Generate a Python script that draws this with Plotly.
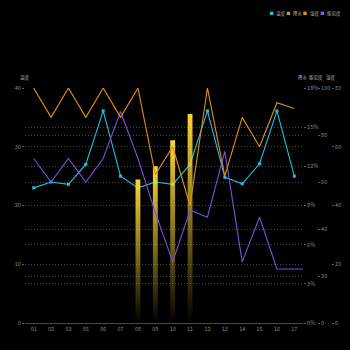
import plotly.graph_objects as go

categories = ["01", "02", "03", "05", "06", "07", "08", "09", "10", "11", "12", "13", "14", "15", "16", "17"]
temperature = [23.0, 24.0, 23.6, 27.0, 36.1, 25.0, 23.0, 24.0, 23.6, 27.0, 36.1, 24.8, 23.7, 27.1, 36.1, 25.0]
precip = [None, None, None, None, None, None, 11, 12, 14, 16, None, None, None, None, None, None]
humidity = [80, 70, 80, 70, 80, 70, 80, 50.5, 60, 40, 80, 50, 70, 60, 75, 73]
visibility = [70, 60, 70, 60, 70, 90, 70, 47, 26, 48, 45, 73, 26, 45, 23, 23, 23]

temp_ticks = [0, 10, 20, 30, 40]
precip_ticks = [0, 3, 6, 9, 12, 15, 18]
vis_ticks = [0, 20, 40, 60, 80, 100]
hum_ticks = [0, 20, 40, 60, 80]

L, R, T, B, W, H = 25, 5, 88, 27, 350, 350
PW, PH = W - L - R, H - T - B


def px(p):
    return (p - L) / PW


def py(p):
    return (H - B - p) / PH


FONT = "Noto Sans CJK SC, Noto Sans, sans-serif"
CYAN, GOLD, ORANGE, PURPLE = "#1fc0e2", "#f2cf32", "#e0900f", "#7b4fd8"
GRID = "#444444"
TICKC = "#8a8a8a"
TICKMARK = "#3e5f99"

xs = list(range(len(categories)))
fig = go.Figure()

# precipitation bars (gradient filled rectangles on numeric category axis)
hw = 0.14
for i, v in enumerate(precip):
    if v is None:
        continue
    fig.add_trace(go.Scatter(
        x=[i - hw, i - hw, i + hw, i + hw, i - hw], y=[0, v, v, 0, 0],
        mode="lines", fill="toself", line=dict(width=0, color=GOLD),
        fillgradient=dict(type="vertical", start=0, stop=v,
                          colorscale=[[0, "rgba(242,207,50,0)"], [0.5, "rgba(242,207,50,0.55)"], [1, "rgba(250,215,55,1)"]]),
        yaxis="y2", showlegend=False, hoverinfo="skip"))

fig.add_trace(go.Scatter(x=xs, y=humidity, mode="lines", line=dict(color=ORANGE, width=1.1),
                         yaxis="y4", showlegend=False))
fig.add_trace(go.Scatter(x=list(range(len(visibility))), y=visibility, mode="lines",
                         line=dict(color=PURPLE, width=1.1), yaxis="y3", showlegend=False))
fig.add_trace(go.Scatter(x=xs, y=temperature, mode="lines+markers", line=dict(color=CYAN, width=1.1),
                         marker=dict(size=3, color=CYAN, symbol="square"), yaxis="y", showlegend=False))

common = dict(showgrid=True, gridcolor=GRID, griddash="1px,2px", gridwidth=1, zeroline=False,
              showline=False, ticks="outside", ticklen=2, tickcolor=TICKMARK,
              tickfont=dict(size=5.5, color=TICKC, family=FONT))

fig.update_layout(
    width=W, height=H, margin=dict(l=L, r=R, t=T, b=B),
    paper_bgcolor="#000000", plot_bgcolor="#000000",
    font=dict(family=FONT, color=TICKC),
    showlegend=False,
    xaxis=dict(domain=[0, (303 - L) / PW], range=[-0.5, len(categories) - 0.5],
               tickvals=xs, ticktext=categories, showgrid=False, zeroline=False,
               showline=True, linecolor="#4a4a4a", linewidth=1, ticks="",
               tickfont=dict(size=5.5, color=TICKC, family=FONT)),
    yaxis=dict(range=[0, 40], tickvals=temp_ticks, **common),
    yaxis2=dict(range=[0, 18], tickvals=precip_ticks, ticktext=[f"{t}%" for t in precip_ticks],
                overlaying="y", side="right", anchor="x", **common),
    yaxis3=dict(range=[0, 100], tickvals=vis_ticks, overlaying="y", side="right",
                anchor="free", position=(317 - L) / PW, **common),
    yaxis4=dict(range=[0, 80], tickvals=hum_ticks, overlaying="y", side="right",
                anchor="free", position=(331 - L) / PW, **common),
)

# axis titles
titles = [("温度", 25), ("降水", 303), ("能见度", 315.5), ("湿度", 331)]
for txt, cx in titles:
    fig.add_annotation(text=txt, x=px(cx), y=py(77.5), xref="paper", yref="paper",
                       xanchor="center", yanchor="middle", showarrow=False,
                       font=dict(size=4.5, color="#b0b0b0", family=FONT))

# legend
legend = [("温度", CYAN, 270), ("降水", "#b89d1e", 286.7), ("湿度", "#f0920e", 303.3), ("能见度", "#8a5cf0", 320.7)]
for txt, col, x0 in legend:
    fig.add_shape(type="rect", xref="paper", yref="paper", x0=px(x0), x1=px(x0 + 3.4),
                  y0=py(15), y1=py(11.7), fillcolor=col, line=dict(width=0))
    fig.add_annotation(text=txt, x=px(x0 + 4.3), y=py(13.4), xref="paper", yref="paper",
                       xanchor="left", yanchor="middle", showarrow=False,
                       font=dict(size=4.5, color="#b0b0b0", family=FONT))

fig.write_html("out.html")
